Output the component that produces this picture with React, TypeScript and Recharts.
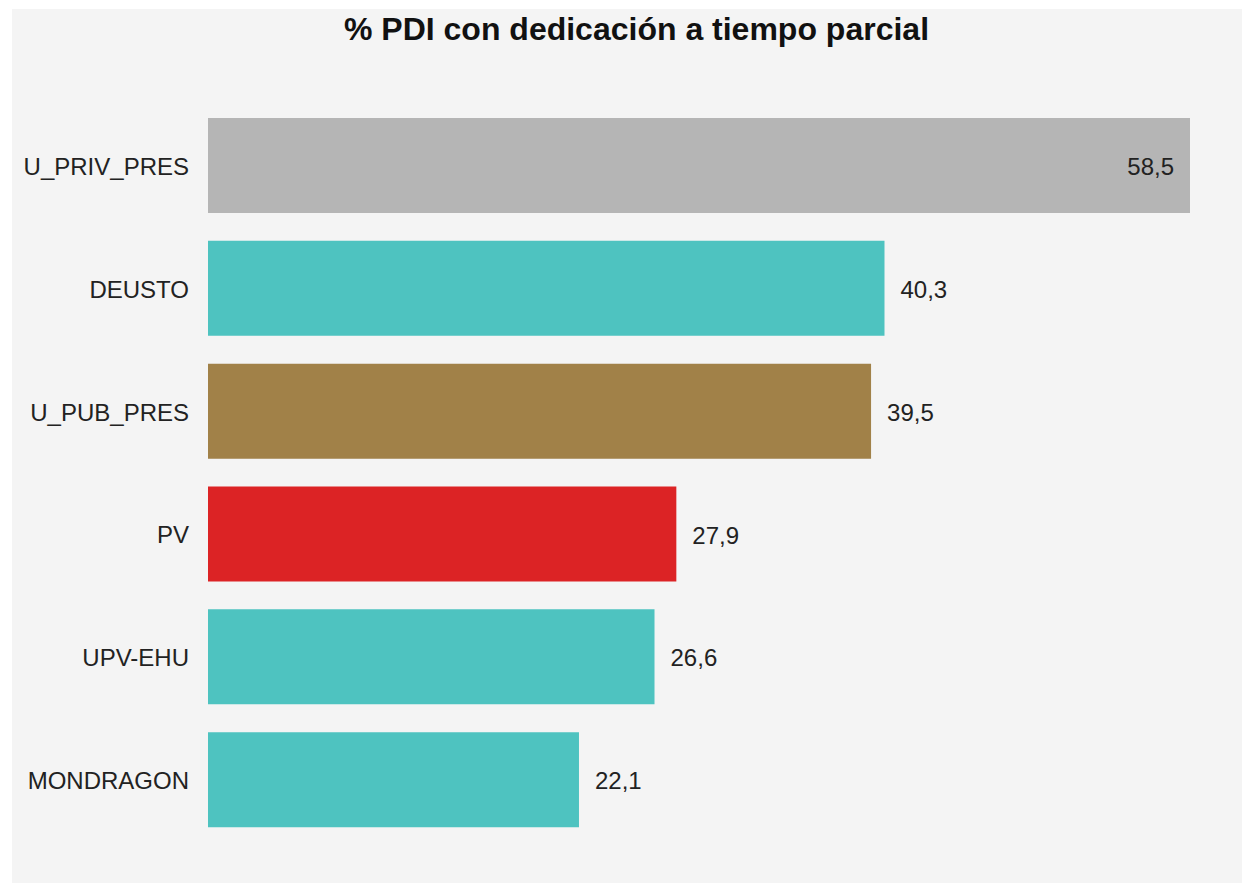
import { BarChart, Bar, XAxis, YAxis, Cell, LabelList } from "recharts";

const universities = ["U_PRIV_PRES", "DEUSTO", "U_PUB_PRES", "PV", "UPV-EHU", "MONDRAGON"];
const partTimePct = [58.5, 40.3, 39.5, 27.9, 26.6, 22.1];

// colour per row, same order as universities
const barColors = ["#b5b5b5", "#4ec3c0", "#a18148", "#dc2325", "#4ec3c0", "#4ec3c0"];

const FONT = "'Liberation Sans', Arial, sans-serif";
const W = 1230;
const H = 874;
const PLOT_RIGHT = 1178;

const rows = universities.map((name, i) => ({ name, value: partTimePct[i] }));

function ValueLabel(props: any) {
  const { x, y, width, height, value } = props;
  const text = String(value).replace(".", ",");
  const end = x + width;
  const approxW = text.length * 12.5;
  const inside = end + 16 + approxW > PLOT_RIGHT;
  return (
    <text
      x={inside ? end - 16 : end + 16}
      y={y + height / 2 + 1}
      textAnchor={inside ? "end" : "start"}
      dominantBaseline="central"
      fill="#222"
      fontSize={24}
      fontFamily={FONT}
    >
      {text}
    </text>
  );
}

function YTick(props: any) {
  const { x, y, payload } = props;
  return (
    <text
      x={x}
      y={y + 1}
      textAnchor="end"
      dominantBaseline="central"
      fill="#222"
      fontSize={24}
      fontFamily={FONT}
    >
      {payload.value}
    </text>
  );
}

export default function App() {
  return (
    <div
      style={{
        position: "absolute",
        left: 12,
        top: 9,
        width: W,
        height: H,
        background: "#f4f4f4",
        fontFamily: FONT,
      }}
    >
      <div
        style={{
          position: "absolute",
          left: 0,
          top: 1,
          width: 1249,
          textAlign: "center",
          fontSize: 32,
          fontWeight: "bold",
          lineHeight: "38px",
          color: "#111",
        }}
      >
        % PDI con dedicación a tiempo parcial
      </div>
      <BarChart
        width={W}
        height={H}
        data={rows}
        layout="vertical"
        margin={{ top: 95, right: W - PLOT_RIGHT, bottom: 42, left: 0 }}
        barCategoryGap={14}
      >
        <XAxis type="number" hide domain={[0, "dataMax"]} />
        <YAxis
          type="category"
          dataKey="name"
          width={196}
          axisLine={false}
          tickLine={false}
          tickSize={0}
          tickMargin={19}
          tick={YTick}
        />
        <Bar dataKey="value" isAnimationActive={false}>
          {rows.map((r, i) => (
            <Cell key={r.name} fill={barColors[i]} />
          ))}
          <LabelList dataKey="value" content={ValueLabel} />
        </Bar>
      </BarChart>
    </div>
  );
}
